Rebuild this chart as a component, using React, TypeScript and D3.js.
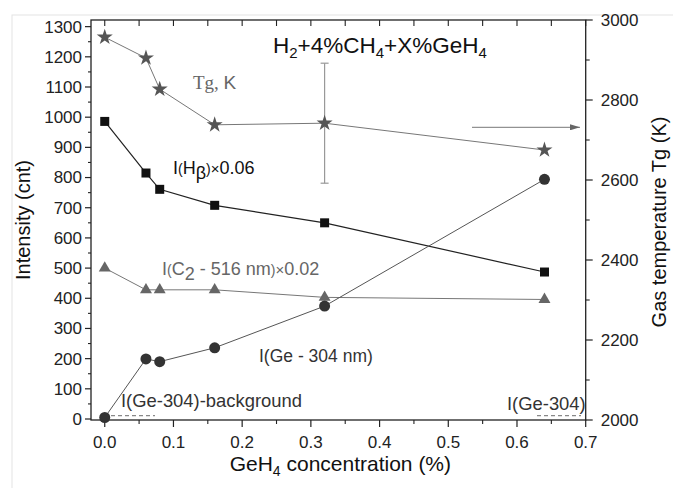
import React from "react";
import * as d3 from "d3";

// GeH4 concentration (%) for every measured point
const conc = [0, 0.06, 0.08, 0.16, 0.32, 0.64];

// Gas temperature Tg (K), right axis
const tgValues = [2957, 2905, 2827, 2738, 2742, 2675];
// Error bar on the Tg point at 0.32 %
const tgErrIndex = 4;
const tgErr = 150;

// Line intensities (cnt), left axis
const hBeta = [986, 815, 761, 708, 650, 487];
const c2 = [500, 428, 428, 428, 403, 396];
const ge304 = [5, 199, 190, 236, 374, 794];

const leftTicks = d3.range(0, 1301, 100);
const leftMinor = d3.range(50, 1300, 100);
const rightTicks = d3.range(2000, 3001, 200);
const rightMinor = d3.range(2100, 3000, 200);
const xTicks = d3.range(0, 8).map((i) => i / 10);
const xMinor = d3.range(0, 7).map((i) => i / 10 + 0.05);
const topTicks = d3.range(0, 15).map((i) => i * 0.05);

const W = 673;
const H = 488;
const L = 91;
const R = 585.7;
const T = 20;
const B = 420;
const font = "'Liberation Sans', Arial, sans-serif";

export default function App() {
  const x = d3.scaleLinear().domain([-0.02, 0.7]).range([L, R]);
  const yL = d3.scaleLinear().domain([-3.3, 1322]).range([B, T]);
  const yR = d3.scaleLinear().domain([2000, 3000]).range([B, T]);

  const lineL = d3
    .line<number>()
    .x((_, i) => x(conc[i]))
    .y((d) => yL(d));
  const lineR = d3
    .line<number>()
    .x((_, i) => x(conc[i]))
    .y((d) => yR(d));

  const star = d3.symbol().type(d3.symbolStar).size(80)()!;
  const square = d3.symbol().type(d3.symbolSquare).size(81)()!;
  const tri = d3.symbol().type(d3.symbolTriangle).size(62)()!;
  const circ = d3.symbol().type(d3.symbolCircle).size(95)()!;

  const ex = x(conc[tgErrIndex]);
  const ey1 = yR(tgValues[tgErrIndex] + tgErr);
  const ey2 = yR(tgValues[tgErrIndex] - tgErr);

  return (
    <svg
      width={W}
      height={H}
      style={{ position: "fixed", left: 0, top: 0, background: "#fff" }}
      fontFamily={font}
    >
      <defs>
        <marker
          id="arrowHead"
          viewBox="0 0 10 6"
          refX="10"
          refY="3"
          markerWidth="10"
          markerHeight="6"
          markerUnits="userSpaceOnUse"
          orient="auto"
        >
          <path d="M0,0 L10,3 L0,6 Z" fill="#666" />
        </marker>
      </defs>

      {/* panel border */}
      <rect x={12} y={15} width={700} height={500} fill="none" stroke="#e4e4e4" strokeWidth={1} />

      {/* frame */}
      <rect x={L} y={T} width={R - L} height={B - T} fill="none" stroke="#222" strokeWidth={1.3} />

      {/* left axis ticks */}
      {leftTicks.map((v) => (
        <g key={"l" + v}>
          <line x1={L - 6} x2={L} y1={yL(v)} y2={yL(v)} stroke="#222" strokeWidth={1.2} />
          <text x={L - 9} y={yL(v)} dy="0.35em" textAnchor="end" fontSize={17} fill="#222">
            {v}
          </text>
        </g>
      ))}
      {leftMinor.map((v) => (
        <line key={"lm" + v} x1={L - 3} x2={L} y1={yL(v)} y2={yL(v)} stroke="#222" strokeWidth={1.1} />
      ))}

      {/* right axis ticks */}
      {rightTicks.map((v) => (
        <g key={"r" + v}>
          <line x1={R} x2={R + 7} y1={yR(v)} y2={yR(v)} stroke="#222" strokeWidth={1.2} />
          <text x={R + 15} y={yR(v)} dy="0.35em" fontSize={17} fill="#222">
            {v}
          </text>
        </g>
      ))}
      {rightMinor.map((v) => (
        <line key={"rm" + v} x1={R} x2={R + 4} y1={yR(v)} y2={yR(v)} stroke="#222" strokeWidth={1.1} />
      ))}

      {/* bottom axis ticks */}
      {xTicks.map((v) => (
        <g key={"b" + v}>
          <line x1={x(v)} x2={x(v)} y1={B} y2={B + 7} stroke="#222" strokeWidth={1.2} />
          <text x={x(v)} y={B + 28} textAnchor="middle" fontSize={17} fill="#222">
            {v.toFixed(1)}
          </text>
        </g>
      ))}
      {xMinor.map((v) => (
        <line key={"bm" + v} x1={x(v)} x2={x(v)} y1={B} y2={B + 4} stroke="#222" strokeWidth={1.1} />
      ))}

      {/* top axis ticks */}
      {topTicks.map((v) => (
        <line key={"t" + v} x1={x(v)} x2={x(v)} y1={T} y2={T + 6} stroke="#222" strokeWidth={1.1} />
      ))}

      {/* axis titles */}
      <text
        transform={`translate(30,${(T + B) / 2}) rotate(-90)`}
        textAnchor="middle"
        fontSize={20}
        fill="#111"
      >
        Intensity (cnt)
      </text>
      <text
        transform={`translate(666,${(T + B) / 2 + 2}) rotate(-90)`}
        textAnchor="middle"
        fontSize={20}
        fill="#111"
      >
        Gas temperature Tg (K)
      </text>
      <text x={(L + R) / 2 + 2} y={471} textAnchor="middle" fontSize={21} fill="#111">
        GeH
        <tspan fontSize={14} dy={5}>
          4
        </tspan>
        <tspan dy={-5}> concentration (%)</tspan>
      </text>

      {/* Tg series */}
      <line x1={ex} x2={ex} y1={ey1} y2={ey2} stroke="#999" strokeWidth={1.2} />
      <line x1={ex - 4} x2={ex + 4} y1={ey1} y2={ey1} stroke="#999" strokeWidth={1.2} />
      <line x1={ex - 4} x2={ex + 4} y1={ey2} y2={ey2} stroke="#999" strokeWidth={1.2} />
      <path d={lineR(tgValues)!} fill="none" stroke="#777" strokeWidth={1} />
      {tgValues.map((v, i) => (
        <path key={"s" + i} d={star} transform={`translate(${x(conc[i])},${yR(v)})`} fill="#555" />
      ))}

      {/* H-beta series */}
      <path d={lineL(hBeta)!} fill="none" stroke="#222" strokeWidth={1.2} />
      {hBeta.map((v, i) => (
        <path key={"q" + i} d={square} transform={`translate(${x(conc[i])},${yL(v)})`} fill="#111" />
      ))}

      {/* C2 series */}
      <path d={lineL(c2)!} fill="none" stroke="#777" strokeWidth={1} />
      {c2.map((v, i) => (
        <path key={"tr" + i} d={tri} transform={`translate(${x(conc[i])},${yL(v)})`} fill="#666" />
      ))}

      {/* Ge 304 nm series */}
      <path d={lineL(ge304)!} fill="none" stroke="#555" strokeWidth={1} />
      {ge304.map((v, i) => (
        <path key={"c" + i} d={circ} transform={`translate(${x(conc[i])},${yL(v)})`} fill="#333" />
      ))}

      {/* arrow pointing to the temperature axis */}
      <line x1={472} x2={580} y1={127.3} y2={127.3} stroke="#777" strokeWidth={1} markerEnd="url(#arrowHead)" />

      {/* annotations */}
      <text x={273} y={53} fontSize={22.5} fill="#111">
        H
        <tspan fontSize={15} dy={5}>2</tspan>
        <tspan dy={-5}>+4%CH</tspan>
        <tspan fontSize={15} dy={5}>4</tspan>
        <tspan dy={-5}>+X%GeH</tspan>
        <tspan fontSize={15} dy={5}>4</tspan>
      </text>
      <text x={193} y={89} fontSize={19} fill="#666" fontFamily="'Liberation Serif', serif">
        Tg, <tspan fontFamily={font}>K</tspan>
      </text>
      <text x={173} y={174} fontSize={18} fill="#111">
        I<tspan fontSize={14}>(</tspan>H
        <tspan fontSize={18} dy={5}>β</tspan>
        <tspan fontSize={14} dy={-5}>)</tspan>
        <tspan fontSize={15}>×</tspan>0.06
      </text>
      <text x={162} y={275} fontSize={18} fill="#666">
        I<tspan fontSize={14}>(</tspan>C
        <tspan fontSize={18} dy={5}>2</tspan>
        <tspan dy={-5}> - 516 nm</tspan>
        <tspan fontSize={14}>)</tspan>
        <tspan fontSize={15}>×</tspan>0.02
      </text>
      <text x={259} y={362} fontSize={17.5} fill="#333">
        I(Ge - 304 nm)
      </text>
      <text x={121} y={407} fontSize={18.4} fill="#333">
        I(Ge-304)-background
      </text>
      <line x1={111} x2={155} y1={415.6} y2={415.6} stroke="#888" strokeWidth={1.2} strokeDasharray="4 3" />
      <text x={507} y={410} fontSize={18.4} fill="#333">
        I(Ge-304)
      </text>
      <line x1={537} x2={581} y1={415.6} y2={415.6} stroke="#888" strokeWidth={1.2} strokeDasharray="4 3" />
    </svg>
  );
}
